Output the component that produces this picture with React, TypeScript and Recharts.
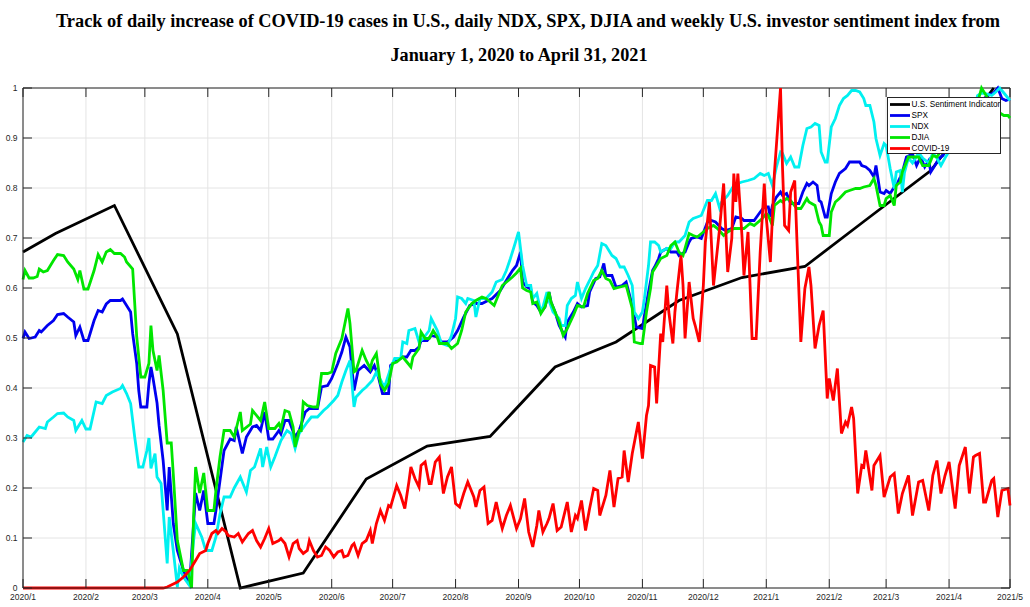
import * as React from "react"
import { LineChart, Line, XAxis, YAxis, CartesianGrid, Legend, ReferenceLine } from "recharts"

// x values are days since 2020-01-01, y values are min-max normalised (0..1)
const monthTicks = [0, 31, 60, 91, 121, 152, 182, 213, 244, 274, 305, 335, 366, 397, 425, 456, 486]
const monthLabels = [
  "2020/1", "2020/2", "2020/3", "2020/4", "2020/5", "2020/6", "2020/7", "2020/8", "2020/9",
  "2020/10", "2020/11", "2020/12", "2021/1", "2021/2", "2021/3", "2021/4", "2021/5",
]
const valueTicks = [0, 0.1, 0.2, 0.3, 0.4, 0.5, 0.6, 0.7, 0.8, 0.9, 1]
const valueLabels = ["0", "0.1", "0.2", "0.3", "0.4", "0.5", "0.6", "0.7", "0.8", "0.9", "1"]

const sentiment: [number, number][] = [
  [0, 0.672], [16, 0.709], [45, 0.765], [76, 0.508], [107, 0.0], [138, 0.03], [169, 0.218],
  [199, 0.284], [230, 0.303], [262, 0.442], [292, 0.492], [323, 0.575], [354, 0.621],
  [385, 0.643], [414, 0.733], [447, 0.835], [478, 1.0],
]

const spx: [number, number][] = [
  [0, 0.499], [1, 0.512], [3, 0.499], [6, 0.502], [8, 0.515], [9, 0.512], [12, 0.525], [15, 0.535],
  [17, 0.547], [20, 0.549], [22, 0.542], [25, 0.532], [26, 0.505], [28, 0.522], [30, 0.495], [32, 0.495],
  [35, 0.535], [37, 0.555], [39, 0.552], [41, 0.568], [43, 0.575], [48, 0.575], [49, 0.578], [51, 0.565],
  [53, 0.552], [54, 0.509], [56, 0.449], [57, 0.395], [58, 0.362], [61, 0.362], [62, 0.409], [63, 0.442],
  [64, 0.42], [66, 0.37], [67, 0.325], [69, 0.255], [71, 0.155], [72, 0.242], [74, 0.129], [76, 0.075],
  [79, 0.035], [82, 0.005], [84, 0.129], [85, 0.19], [87, 0.155], [89, 0.195], [91, 0.129], [94, 0.129],
  [95, 0.155], [97, 0.215], [99, 0.275], [102, 0.298], [104, 0.295], [105, 0.322], [108, 0.269], [110, 0.302],
  [113, 0.322], [115, 0.325], [117, 0.315], [119, 0.352], [121, 0.298], [123, 0.298], [126, 0.315], [127, 0.308],
  [129, 0.335], [131, 0.335], [134, 0.302], [136, 0.315], [139, 0.352], [141, 0.359], [145, 0.359], [147, 0.402],
  [150, 0.405], [152, 0.419], [155, 0.449], [157, 0.472], [159, 0.502], [161, 0.482], [163, 0.395], [165, 0.435],
  [168, 0.445], [171, 0.432], [173, 0.445], [175, 0.422], [177, 0.389], [180, 0.389], [181, 0.445], [184, 0.455],
  [187, 0.462], [189, 0.462], [191, 0.475], [193, 0.475], [195, 0.482], [196, 0.495], [199, 0.495], [201, 0.505],
  [204, 0.502], [206, 0.492], [209, 0.492], [212, 0.502], [214, 0.515], [217, 0.542], [220, 0.565], [223, 0.569],
  [226, 0.569], [229, 0.575], [231, 0.579], [235, 0.595], [238, 0.615], [241, 0.635], [243, 0.645], [245, 0.672],
  [246, 0.612], [248, 0.602], [250, 0.598], [251, 0.572], [253, 0.565], [255, 0.552], [257, 0.562], [259, 0.592],
  [260, 0.572], [262, 0.552], [264, 0.525], [267, 0.502], [268, 0.532], [271, 0.552], [273, 0.569], [275, 0.562],
  [278, 0.565], [279, 0.592], [282, 0.619], [284, 0.622], [286, 0.649], [287, 0.625], [290, 0.625], [292, 0.602],
  [295, 0.605], [297, 0.612], [300, 0.565], [302, 0.522], [305, 0.519], [306, 0.545], [308, 0.592], [310, 0.635],
  [311, 0.642], [313, 0.659], [314, 0.672], [317, 0.679], [319, 0.672], [322, 0.672], [323, 0.665], [326, 0.672],
  [328, 0.692], [329, 0.699], [332, 0.702], [334, 0.699], [337, 0.732], [339, 0.735], [341, 0.732], [344, 0.719],
  [346, 0.715], [349, 0.719], [351, 0.742], [354, 0.739], [355, 0.735], [358, 0.735], [360, 0.735], [363, 0.752],
  [365, 0.762], [367, 0.762], [368, 0.742], [369, 0.765], [371, 0.782], [373, 0.792], [374, 0.785], [376, 0.789],
  [378, 0.769], [380, 0.769], [382, 0.769], [384, 0.792], [386, 0.809], [387, 0.805], [389, 0.812], [391, 0.805],
  [392, 0.775], [393, 0.772], [395, 0.742], [396, 0.742], [398, 0.789], [400, 0.812], [402, 0.829], [405, 0.839],
  [407, 0.852], [410, 0.852], [412, 0.852], [413, 0.845], [415, 0.842], [417, 0.835], [419, 0.822], [420, 0.845],
  [422, 0.792], [424, 0.789], [425, 0.795], [427, 0.789], [429, 0.802], [430, 0.805], [432, 0.822], [433, 0.832],
  [435, 0.862], [438, 0.868], [440, 0.845], [442, 0.862], [444, 0.842], [446, 0.855], [447, 0.832], [449, 0.845],
  [451, 0.859], [453, 0.865], [454, 0.872], [457, 0.89], [460, 0.91], [463, 0.93], [466, 0.95], [469, 0.97],
  [472, 0.975], [475, 0.985], [478, 0.99], [480, 1.0], [482, 0.979], [484, 0.975], [486, 0.978],
]

const ndx: [number, number][] = [
  [0, 0.292], [2, 0.305], [4, 0.302], [8, 0.322], [11, 0.319], [12, 0.332], [15, 0.342], [17, 0.349],
  [20, 0.35], [22, 0.342], [25, 0.335], [26, 0.315], [29, 0.335], [31, 0.318], [33, 0.318], [36, 0.372],
  [39, 0.369], [41, 0.385], [44, 0.392], [48, 0.399], [49, 0.405], [51, 0.389], [53, 0.369], [55, 0.302],
  [57, 0.242], [59, 0.242], [61, 0.275], [62, 0.3], [63, 0.239], [65, 0.269], [66, 0.222], [68, 0.209],
  [71, 0.049], [72, 0.142], [74, 0.075], [76, 0.002], [77, 0.04], [79, 0.022], [82, 0.005], [84, 0.095],
  [85, 0.129], [88, 0.102], [90, 0.075], [93, 0.075], [95, 0.102], [97, 0.148], [99, 0.182], [102, 0.182],
  [104, 0.2], [107, 0.222], [110, 0.192], [112, 0.235], [114, 0.242], [117, 0.279], [118, 0.242], [120, 0.282],
  [122, 0.242], [124, 0.262], [127, 0.295], [130, 0.315], [132, 0.309], [134, 0.279], [136, 0.309], [140, 0.332],
  [142, 0.342], [145, 0.342], [148, 0.355], [150, 0.362], [153, 0.375], [155, 0.385], [157, 0.412], [159, 0.435],
  [161, 0.455], [163, 0.362], [164, 0.382], [167, 0.395], [169, 0.402], [172, 0.415], [174, 0.432], [177, 0.409],
  [178, 0.402], [181, 0.439], [183, 0.459], [186, 0.459], [187, 0.492], [189, 0.489], [190, 0.515], [193, 0.519],
  [195, 0.492], [197, 0.499], [200, 0.515], [201, 0.539], [204, 0.515], [206, 0.489], [209, 0.485], [211, 0.505],
  [213, 0.539], [214, 0.582], [216, 0.579], [218, 0.569], [219, 0.579], [222, 0.575], [223, 0.542], [225, 0.579],
  [228, 0.579], [231, 0.592], [233, 0.612], [236, 0.617], [238, 0.635], [240, 0.659], [242, 0.685], [244, 0.712],
  [246, 0.645], [248, 0.605], [250, 0.605], [251, 0.579], [253, 0.589], [255, 0.552], [256, 0.562], [258, 0.592],
  [259, 0.575], [261, 0.552], [264, 0.539], [265, 0.525], [267, 0.525], [268, 0.565], [270, 0.579], [272, 0.585],
  [273, 0.612], [275, 0.579], [277, 0.599], [279, 0.615], [281, 0.632], [283, 0.645], [285, 0.689], [287, 0.685],
  [290, 0.665], [292, 0.659], [294, 0.642], [296, 0.642], [298, 0.625], [300, 0.605], [301, 0.552], [303, 0.539],
  [305, 0.552], [306, 0.579], [308, 0.645], [309, 0.692], [311, 0.692], [313, 0.685], [314, 0.672], [317, 0.679],
  [319, 0.679], [321, 0.692], [323, 0.692], [326, 0.705], [328, 0.732], [330, 0.739], [332, 0.742], [334, 0.745],
  [336, 0.765], [337, 0.775], [339, 0.775], [341, 0.789], [343, 0.76], [344, 0.772], [347, 0.785], [350, 0.805],
  [352, 0.809], [354, 0.812], [357, 0.815], [360, 0.819], [363, 0.829], [365, 0.825], [367, 0.829], [369, 0.805],
  [371, 0.842], [373, 0.872], [374, 0.869], [376, 0.849], [378, 0.862], [380, 0.842], [382, 0.842], [384, 0.885],
  [386, 0.919], [388, 0.922], [390, 0.929], [392, 0.925], [393, 0.872], [395, 0.852], [396, 0.852], [398, 0.922],
  [400, 0.939], [402, 0.965], [404, 0.979], [406, 0.985], [408, 0.995], [410, 0.995], [412, 0.992], [414, 0.979],
  [415, 0.965], [417, 0.965], [419, 0.932], [420, 0.899], [422, 0.865], [424, 0.889], [425, 0.885], [427, 0.839],
  [429, 0.799], [430, 0.832], [432, 0.835], [433, 0.792], [434, 0.83], [436, 0.86], [438, 0.85], [441, 0.87],
  [443, 0.86], [446, 0.85], [448, 0.87], [450, 0.86], [452, 0.845], [454, 0.86], [457, 0.88], [460, 0.9],
  [463, 0.92], [466, 0.94], [469, 0.965], [470, 0.985], [472, 0.99], [474, 0.989], [477, 0.985], [479, 0.992],
  [481, 1.0], [483, 0.99], [485, 0.98], [486, 0.975],
]

const djia: [number, number][] = [
  [0, 0.617], [1, 0.635], [3, 0.62], [5, 0.62], [7, 0.623], [8, 0.638], [10, 0.632], [12, 0.635],
  [15, 0.655], [17, 0.667], [20, 0.665], [22, 0.652], [25, 0.638], [27, 0.617], [28, 0.635], [30, 0.598],
  [32, 0.598], [35, 0.635], [37, 0.667], [39, 0.652], [41, 0.672], [43, 0.677], [45, 0.669], [48, 0.669],
  [50, 0.662], [51, 0.652], [54, 0.638], [56, 0.502], [58, 0.422], [60, 0.422], [62, 0.449], [63, 0.525],
  [64, 0.475], [66, 0.435], [67, 0.465], [69, 0.395], [71, 0.29], [73, 0.29], [74, 0.228], [76, 0.095],
  [79, 0.035], [81, 0.035], [83, 0.0], [84, 0.142], [85, 0.242], [87, 0.19], [89, 0.23], [91, 0.155],
  [94, 0.155], [95, 0.195], [97, 0.262], [99, 0.315], [102, 0.315], [104, 0.302], [107, 0.352], [108, 0.315],
  [112, 0.328], [113, 0.355], [117, 0.335], [119, 0.372], [121, 0.319], [124, 0.319], [126, 0.329], [127, 0.319],
  [129, 0.355], [131, 0.352], [133, 0.322], [134, 0.282], [136, 0.315], [137, 0.315], [138, 0.372], [140, 0.365],
  [143, 0.362], [145, 0.362], [147, 0.429], [150, 0.429], [152, 0.432], [154, 0.469], [157, 0.499], [160, 0.559],
  [161, 0.529], [163, 0.432], [164, 0.435], [167, 0.475], [169, 0.455], [171, 0.439], [172, 0.455], [174, 0.469],
  [176, 0.409], [178, 0.395], [180, 0.409], [182, 0.449], [184, 0.452], [187, 0.462], [189, 0.452], [191, 0.442],
  [192, 0.462], [195, 0.479], [196, 0.512], [198, 0.499], [200, 0.499], [202, 0.515], [204, 0.502], [205, 0.489],
  [209, 0.489], [211, 0.479], [214, 0.489], [216, 0.515], [218, 0.552], [221, 0.569], [223, 0.575], [226, 0.582],
  [228, 0.579], [232, 0.565], [234, 0.585], [236, 0.605], [239, 0.615], [241, 0.622], [243, 0.63], [245, 0.64],
  [246, 0.6], [248, 0.595], [250, 0.592], [251, 0.569], [253, 0.572], [255, 0.549], [257, 0.562], [259, 0.592],
  [260, 0.572], [262, 0.552], [264, 0.532], [266, 0.505], [268, 0.519], [271, 0.545], [273, 0.565], [276, 0.562],
  [278, 0.589], [281, 0.615], [283, 0.619], [285, 0.635], [287, 0.619], [289, 0.615], [291, 0.599], [294, 0.602],
  [297, 0.605], [300, 0.559], [301, 0.492], [304, 0.489], [305, 0.489], [307, 0.552], [309, 0.599], [310, 0.632],
  [312, 0.645], [314, 0.659], [317, 0.665], [319, 0.685], [321, 0.692], [323, 0.672], [325, 0.665], [328, 0.709],
  [330, 0.705], [332, 0.702], [335, 0.712], [337, 0.719], [340, 0.725], [342, 0.719], [345, 0.705], [347, 0.712],
  [350, 0.719], [353, 0.719], [355, 0.719], [358, 0.729], [360, 0.725], [364, 0.739], [366, 0.749], [367, 0.745],
  [369, 0.725], [370, 0.765], [373, 0.775], [374, 0.772], [376, 0.779], [378, 0.775], [381, 0.759], [383, 0.759],
  [384, 0.765], [386, 0.779], [387, 0.772], [390, 0.765], [392, 0.732], [393, 0.725], [394, 0.705], [397, 0.705],
  [398, 0.752], [400, 0.772], [402, 0.779], [405, 0.792], [407, 0.795], [410, 0.799], [412, 0.799], [414, 0.802],
  [417, 0.805], [419, 0.819], [420, 0.805], [422, 0.765], [424, 0.765], [425, 0.779], [427, 0.785], [429, 0.765],
  [430, 0.805], [432, 0.812], [433, 0.832], [436, 0.862], [438, 0.862], [441, 0.862], [443, 0.845], [446, 0.845],
  [448, 0.865], [450, 0.862], [453, 0.88], [456, 0.92], [460, 0.93], [463, 0.9], [466, 0.93], [470, 0.97],
  [472, 1.0], [475, 0.98], [478, 0.96], [481, 0.95], [483, 0.945], [485, 0.945], [486, 0.94],
]

const covid: [number, number][] = [
  [0, 0], [69, 0], [71, 0.002], [76, 0.012], [79, 0.022], [82, 0.035], [85, 0.055], [87, 0.069],
  [90, 0.075], [91, 0.089], [93, 0.109], [95, 0.115], [96, 0.109], [98, 0.119], [100, 0.112], [101, 0.105],
  [104, 0.102], [106, 0.109], [108, 0.092], [111, 0.109], [113, 0.115], [115, 0.095], [117, 0.082], [119, 0.099],
  [121, 0.119], [123, 0.089], [126, 0.095], [127, 0.099], [129, 0.089], [131, 0.062], [133, 0.089], [135, 0.095],
  [136, 0.079], [138, 0.069], [140, 0.075], [141, 0.095], [143, 0.075], [145, 0.062], [147, 0.065], [149, 0.082],
  [151, 0.075], [153, 0.062], [155, 0.072], [157, 0.075], [158, 0.062], [160, 0.065], [162, 0.085], [163, 0.089],
  [165, 0.065], [167, 0.089], [169, 0.095], [171, 0.115], [172, 0.089], [174, 0.129], [176, 0.155], [178, 0.135],
  [180, 0.165], [181, 0.162], [184, 0.205], [186, 0.185], [188, 0.159], [190, 0.212], [191, 0.242], [193, 0.219],
  [195, 0.202], [196, 0.245], [198, 0.252], [200, 0.209], [201, 0.209], [203, 0.252], [205, 0.262], [207, 0.189],
  [209, 0.222], [211, 0.242], [213, 0.169], [215, 0.162], [217, 0.189], [219, 0.212], [222, 0.182], [223, 0.162],
  [225, 0.195], [227, 0.202], [229, 0.129], [231, 0.135], [233, 0.172], [235, 0.135], [236, 0.119], [238, 0.145],
  [240, 0.165], [243, 0.119], [245, 0.139], [247, 0.179], [249, 0.112], [251, 0.082], [253, 0.125], [254, 0.155],
  [256, 0.112], [258, 0.129], [259, 0.139], [261, 0.169], [263, 0.115], [265, 0.122], [268, 0.172], [270, 0.112],
  [272, 0.145], [273, 0.139], [275, 0.175], [277, 0.115], [279, 0.159], [281, 0.199], [283, 0.195], [284, 0.145],
  [287, 0.185], [289, 0.235], [291, 0.162], [293, 0.219], [295, 0.222], [296, 0.275], [298, 0.212], [300, 0.269],
  [303, 0.332], [305, 0.259], [307, 0.345], [308, 0.365], [309, 0.445], [311, 0.442], [312, 0.369], [314, 0.509],
  [315, 0.492], [317, 0.605], [318, 0.552], [320, 0.489], [321, 0.552], [322, 0.592], [324, 0.665], [325, 0.605],
  [326, 0.499], [328, 0.612], [330, 0.539], [331, 0.525], [333, 0.492], [335, 0.605], [336, 0.692], [338, 0.772],
  [340, 0.605], [343, 0.719], [345, 0.809], [347, 0.632], [349, 0.699], [350, 0.829], [351, 0.772], [352, 0.829],
  [354, 0.705], [355, 0.625], [357, 0.712], [359, 0.499], [361, 0.499], [363, 0.672], [365, 0.809], [366, 0.74],
  [368, 0.652], [370, 0.83], [373, 1.0], [374, 0.839], [375, 0.725], [377, 0.715], [378, 0.792], [380, 0.815],
  [381, 0.705], [383, 0.492], [385, 0.599], [387, 0.642], [388, 0.605], [390, 0.479], [392, 0.525], [394, 0.555],
  [396, 0.379], [397, 0.419], [399, 0.375], [401, 0.439], [403, 0.309], [405, 0.332], [406, 0.325], [408, 0.362],
  [409, 0.339], [411, 0.189], [413, 0.245], [414, 0.242], [415, 0.275], [418, 0.195], [419, 0.245], [422, 0.265],
  [424, 0.182], [427, 0.222], [429, 0.229], [431, 0.149], [433, 0.189], [436, 0.225], [438, 0.145], [441, 0.212],
  [443, 0.215], [446, 0.155], [448, 0.225], [450, 0.255], [452, 0.189], [454, 0.225], [456, 0.252], [459, 0.159],
  [461, 0.245], [464, 0.282], [466, 0.189], [468, 0.262], [469, 0.265], [471, 0.269], [473, 0.172], [474, 0.172],
  [477, 0.215], [478, 0.219], [480, 0.142], [482, 0.195], [485, 0.199], [486, 0.165],
]

const series = [
  { name: "U.S. Sentiment Indicator", color: "#000000", points: sentiment },
  { name: "SPX", color: "#0000f0", points: spx },
  { name: "NDX", color: "#00f0f0", points: ndx },
  { name: "DJIA", color: "#00e600", points: djia },
  { name: "COVID-19", color: "#ff0000", points: covid },
]

const W = 1030
const H = 607
const PLOT_LEFT = 23
const PLOT_RIGHT = 1010
const PLOT_TOP = 88
const PLOT_BOTTOM = 588
const TICK = 9
const AXIS = "#262626"
const SANS = "'Liberation Sans', Arial, sans-serif"
const SERIF = "'Liberation Serif', 'Times New Roman', serif"

const BottomTick = (props: any) => {
  const { x, payload } = props
  const label = monthLabels[monthTicks.indexOf(payload.value)]
  return (
    <g>
      <line x1={x} x2={x} y1={PLOT_BOTTOM} y2={PLOT_BOTTOM - TICK} stroke={AXIS} />
      <line x1={x} x2={x} y1={PLOT_TOP} y2={PLOT_TOP + TICK} stroke={AXIS} />
      <text x={x} y={PLOT_BOTTOM + 12} textAnchor="middle" fontSize={8.5} fontFamily={SANS} fill={AXIS}>
        {label}
      </text>
    </g>
  )
}

const LeftTick = (props: any) => {
  const { y, payload } = props
  const label = valueLabels[valueTicks.indexOf(payload.value)]
  return (
    <g>
      <line x1={PLOT_LEFT} x2={PLOT_LEFT + TICK} y1={y} y2={y} stroke={AXIS} />
      <line x1={PLOT_RIGHT} x2={PLOT_RIGHT - TICK} y1={y} y2={y} stroke={AXIS} />
      <text x={17.5} y={y + 3} textAnchor="end" fontSize={8.5} fontFamily={SANS} fill={AXIS}>
        {label}
      </text>
    </g>
  )
}

const LegendBox = () => (
  <svg width={114} height={57} style={{ display: "block" }}>
    <rect x={0.5} y={0.5} width={113} height={56} fill="#fff" stroke={AXIS} />
    {series.map((s, i) => (
      <g key={s.name}>
        <line x1={3} x2={23} y1={7.5 + i * 11} y2={7.5 + i * 11} stroke={s.color} strokeWidth={2.8} />
        <text x={24.5} y={7.5 + i * 11 + 2.9} fontSize={8.2} fontFamily={SANS} fill="#000">
          {s.name}
        </text>
      </g>
    ))}
  </svg>
)

export default function App() {
  return (
    <div style={{ position: "absolute", left: 0, top: 0, width: W, height: H, background: "#fff" }}>
      <svg width={W} height={80} style={{ position: "absolute", left: 0, top: 0, zIndex: 2 }}>
        <text x={528} y={27} textAnchor="middle" fontSize={18} fontWeight="bold" fontFamily={SERIF}
          textLength={944} lengthAdjust="spacingAndGlyphs" fill="#000">
          Track of daily increase of COVID-19 cases in U.S., daily NDX, SPX, DJIA and weekly U.S. investor sentiment index from
        </text>
        <text x={519} y={61} textAnchor="middle" fontSize={18} fontWeight="bold" fontFamily={SERIF}
          textLength={257} lengthAdjust="spacingAndGlyphs" fill="#000">
          January 1, 2020 to April 31, 2021
        </text>
      </svg>
      <LineChart width={W} height={H} margin={{ top: PLOT_TOP, right: W - PLOT_RIGHT, bottom: 0, left: 0 }}>
        <CartesianGrid stroke="#e4e4e4" />
        <XAxis
          type="number"
          dataKey="d"
          domain={[0, 486]}
          ticks={monthTicks}
          interval={0}
          height={H - PLOT_BOTTOM}
          axisLine={{ stroke: AXIS }}
          tickLine={false}
          tick={BottomTick}
        />
        <YAxis
          type="number"
          domain={[0, 1]}
          ticks={valueTicks}
          interval={0}
          width={PLOT_LEFT}
          axisLine={{ stroke: AXIS }}
          tickLine={false}
          tick={LeftTick}
        />
        <ReferenceLine y={1} stroke={AXIS} />
        <ReferenceLine x={486} stroke={AXIS} />
        {series.map((s) => (
          <Line
            key={s.name}
            data={s.points.map(([d, v]) => ({ d, v }))}
            dataKey="v"
            name={s.name}
            type="linear"
            stroke={s.color}
            strokeWidth={2.8}
            dot={false}
            activeDot={false}
            isAnimationActive={false}
          />
        ))}
        <Legend
          layout="horizontal"
          verticalAlign="middle"
          align="center"
          content={() => <LegendBox />}
          wrapperStyle={{ left: 886.5, top: 96.5, width: 114, height: 57 }}
        />
      </LineChart>
    </div>
  )
}
